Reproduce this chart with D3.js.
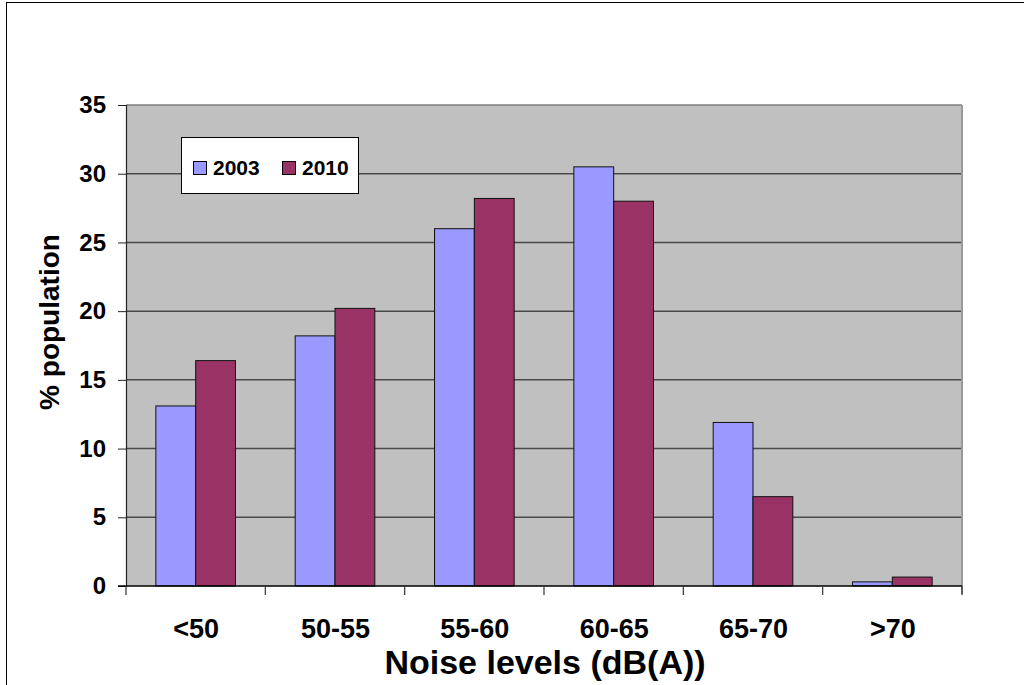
<!DOCTYPE html>
<html>
<head>
<meta charset="utf-8">
<script src="https://cdn.jsdelivr.net/npm/d3@7/dist/d3.min.js"></script>
<style>
  html, body { margin: 0; padding: 0; background: #fff; }
  svg { display: block; font-family: Arial, "Liberation Sans", sans-serif; }
</style>
</head>
<body>
<svg id="chart" width="1024" height="685"></svg>
<script>
// Share of population by noise level band
const categories = ["<50", "50-55", "55-60", "60-65", "65-70", ">70"];
const seriesNames = ["2003", "2010"];
const values2003 = [13.1, 18.2, 26.0, 30.5, 11.9, 0.3];
const values2010 = [16.4, 20.2, 28.2, 28.0, 6.5, 0.65];
const yTicks = [0, 5, 10, 15, 20, 25, 30, 35];
const seriesColors = ["#9999FF", "#993366"];

const svg = d3.select("#chart");
const plot = { left: 126, right: 962, top: 105, bottom: 586 };

// outer frame
svg.append("line").attr("x1", 6.5).attr("x2", 6.5).attr("y1", 2).attr("y2", 685)
  .attr("stroke", "#000").attr("stroke-width", 1);
svg.append("line").attr("x1", 6).attr("x2", 1024).attr("y1", 2.5).attr("y2", 2.5)
  .attr("stroke", "#000").attr("stroke-width", 1);

const x = d3.scaleBand().domain(categories).range([plot.left, plot.right]).padding(0);
const xInner = d3.scaleBand().domain(seriesNames).range([0, x.bandwidth()])
  .paddingInner(0).paddingOuter(0.75);
const y = d3.scaleLinear().domain([0, 35]).range([plot.bottom, plot.top]);

// plot background
svg.append("rect")
  .attr("x", plot.left).attr("y", plot.top)
  .attr("width", plot.right - plot.left).attr("height", plot.bottom - plot.top)
  .attr("fill", "#C0C0C0");

// horizontal gridlines
svg.append("g").selectAll("line")
  .data(yTicks.filter(t => t > 0 && t < 35))
  .join("line")
  .attr("x1", plot.left).attr("x2", plot.right)
  .attr("y1", d => y(d)).attr("y2", d => y(d))
  .attr("stroke", "#4a4a4a").attr("stroke-width", 1.5);

// plot border (top and right)
svg.append("line").attr("x1", plot.left).attr("x2", plot.right)
  .attr("y1", plot.top).attr("y2", plot.top)
  .attr("stroke", "#808080").attr("stroke-width", 1.5);
svg.append("line").attr("x1", plot.right).attr("x2", plot.right)
  .attr("y1", plot.top).attr("y2", plot.bottom + 8)
  .attr("stroke", "#999").attr("stroke-width", 2);

// bars
const rows = categories.map((c, i) => ({ cat: c, vals: [values2003[i], values2010[i]] }));
const groups = svg.append("g").selectAll("g")
  .data(rows).join("g")
  .attr("transform", d => `translate(${x(d.cat)},0)`);
groups.selectAll("rect")
  .data(d => d.vals.map((v, j) => ({ key: seriesNames[j], v, j })))
  .join("rect")
  .attr("x", d => xInner(d.key))
  .attr("width", xInner.bandwidth())
  .attr("y", d => y(d.v))
  .attr("height", d => y(0) - y(d.v))
  .attr("fill", d => seriesColors[d.j])
  .attr("stroke", "#111").attr("stroke-width", 1);

// y axis
const yAxis = d3.axisLeft(y).tickValues(yTicks).tickSize(8).tickPadding(12);
const gy = svg.append("g").attr("transform", `translate(${plot.left},0)`).call(yAxis);
gy.select(".domain").attr("stroke", "#222").attr("stroke-width", 1.2);
gy.selectAll(".tick line").attr("stroke", "#222");
gy.selectAll(".tick text")
  .attr("font-size", 24).attr("font-weight", "bold").attr("fill", "#000")
  .attr("font-family", "Arial, 'Liberation Sans', sans-serif");

// x axis: ticks at category boundaries, labels centred
const gx = svg.append("g").attr("transform", `translate(0,${plot.bottom})`);
gx.append("line").attr("x1", plot.left - 8).attr("x2", plot.right)
  .attr("y1", 0).attr("y2", 0).attr("stroke", "#000").attr("stroke-width", 1.5);
const boundaries = categories.map(c => x(c)).concat([plot.right]);
gx.selectAll("line.tk").data(boundaries).join("line").attr("class", "tk")
  .attr("x1", d => d).attr("x2", d => d).attr("y1", 0).attr("y2", 9)
  .attr("stroke", "#333").attr("stroke-width", 1.2);
gx.selectAll("text").data(categories).join("text")
  .attr("x", d => x(d) + x.bandwidth() / 2 + 0.5)
  .attr("y", 52)
  .attr("text-anchor", "middle")
  .attr("font-size", 27).attr("font-weight", "bold")
  .text(d => d);

// axis titles
svg.append("text")
  .attr("x", (plot.left + plot.right) / 2 + 1).attr("y", 674)
  .attr("text-anchor", "middle")
  .attr("font-size", 34).attr("font-weight", "bold")
  .text("Noise levels (dB(A))");
svg.append("text")
  .attr("transform", "translate(59,322) rotate(-90)")
  .attr("text-anchor", "middle")
  .attr("font-size", 28).attr("font-weight", "bold")
  .text("% population");

// legend
const legend = svg.append("g").attr("transform", "translate(181,137)");
legend.append("rect").attr("x", 0.5).attr("y", 0.5).attr("width", 177).attr("height", 56)
  .attr("fill", "#fff").attr("stroke", "#000").attr("stroke-width", 1);
const legendX = [12, 101];
seriesNames.forEach((name, j) => {
  legend.append("rect")
    .attr("x", legendX[j] + 0.5).attr("y", 24.5).attr("width", 13).attr("height", 13)
    .attr("fill", seriesColors[j]).attr("stroke", "#000").attr("stroke-width", 1);
  legend.append("text")
    .attr("x", legendX[j] + 20).attr("y", 38)
    .attr("font-size", 21).attr("font-weight", "bold")
    .text(name);
});
</script>
</body>
</html>
